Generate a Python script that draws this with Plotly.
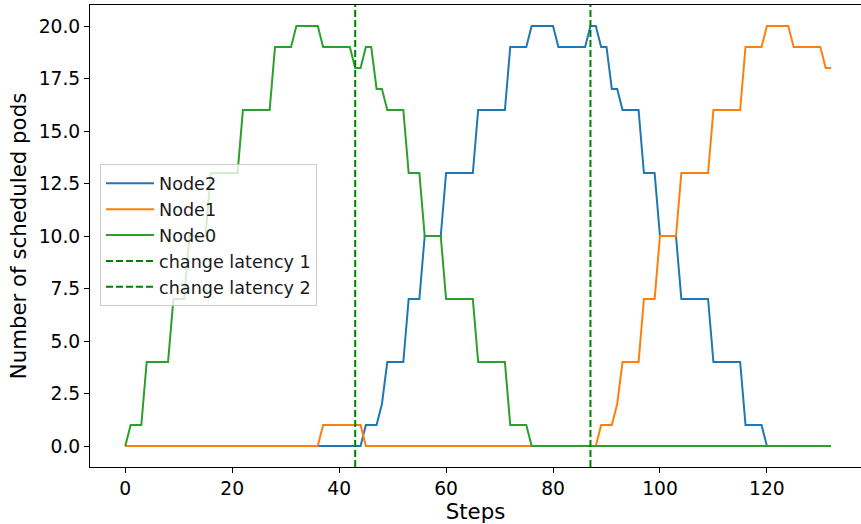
import plotly.graph_objects as go

steps = list(range(133))

node2 = [
    0, 0, 0, 0, 0, 0, 0, 0, 0, 0,
    0, 0, 0, 0, 0, 0, 0, 0, 0, 0,
    0, 0, 0, 0, 0, 0, 0, 0, 0, 0,
    0, 0, 0, 0, 0, 0, 0, 0, 0, 0,
    0, 0, 0, 0, 0, 1, 1, 1, 2, 4,
    4, 4, 4, 7, 7, 7, 10, 10, 10, 10,
    13, 13, 13, 13, 13, 13, 16, 16, 16, 16,
    16, 16, 19, 19, 19, 19, 20, 20, 20, 20,
    20, 19, 19, 19, 19, 19, 19, 20, 20, 19,
    19, 17, 17, 16, 16, 16, 16, 13, 13, 13,
    10, 10, 10, 10, 7, 7, 7, 7, 7, 7,
    4, 4, 4, 4, 4, 4, 1, 1, 1, 1,
    0, 0, 0, 0, 0, 0, 0, 0, 0, 0,
    0, 0, 0,
]

node1 = [
    0, 0, 0, 0, 0, 0, 0, 0, 0, 0,
    0, 0, 0, 0, 0, 0, 0, 0, 0, 0,
    0, 0, 0, 0, 0, 0, 0, 0, 0, 0,
    0, 0, 0, 0, 0, 0, 0, 1, 1, 1,
    1, 1, 1, 1, 1, 0, 0, 0, 0, 0,
    0, 0, 0, 0, 0, 0, 0, 0, 0, 0,
    0, 0, 0, 0, 0, 0, 0, 0, 0, 0,
    0, 0, 0, 0, 0, 0, 0, 0, 0, 0,
    0, 0, 0, 0, 0, 0, 0, 0, 0, 1,
    1, 1, 2, 4, 4, 4, 4, 7, 7, 7,
    10, 10, 10, 10, 13, 13, 13, 13, 13, 13,
    16, 16, 16, 16, 16, 16, 19, 19, 19, 19,
    20, 20, 20, 20, 20, 19, 19, 19, 19, 19,
    19, 18, 18,
]

node0 = [
    0, 1, 1, 1, 4, 4, 4, 4, 4, 7,
    7, 7, 10, 10, 10, 10, 13, 13, 13, 13,
    13, 13, 16, 16, 16, 16, 16, 16, 19, 19,
    19, 19, 20, 20, 20, 20, 20, 19, 19, 19,
    19, 19, 19, 18, 18, 19, 19, 17, 17, 16,
    16, 16, 16, 13, 13, 13, 10, 10, 10, 10,
    7, 7, 7, 7, 7, 7, 4, 4, 4, 4,
    4, 4, 1, 1, 1, 1, 0, 0, 0, 0,
    0, 0, 0, 0, 0, 0, 0, 0, 0, 0,
    0, 0, 0, 0, 0, 0, 0, 0, 0, 0,
    0, 0, 0, 0, 0, 0, 0, 0, 0, 0,
    0, 0, 0, 0, 0, 0, 0, 0, 0, 0,
    0, 0, 0, 0, 0, 0, 0, 0, 0, 0,
    0, 0, 0,
]

series_names = ["Node2", "Node1", "Node0"]
series_colors = ["#1f77b4", "#ff7f0e", "#2ca02c"]

change_steps = [43, 87]
change_names = ["change latency 1", "change latency 2"]

x_ticks = [0, 20, 40, 60, 80, 100, 120]
y_ticks = [0, 2.5, 5, 7.5, 10, 12.5, 15, 17.5, 20]
x_range = [-6.6, 137.6]
y_range = [-1, 21]

FONT = "DejaVu Sans"

fig = go.Figure()
for name, color, vals in zip(series_names, series_colors, [node2, node1, node0]):
    fig.add_trace(go.Scatter(
        x=steps, y=vals, mode="lines", name=name,
        line=dict(color=color, width=2),
    ))

for name, s in zip(change_names, change_steps):
    fig.add_trace(go.Scatter(
        x=[s, s], y=y_range, mode="lines", name=name,
        line=dict(color="#008000", width=2, dash="7px,3px"),
    ))

fig.update_layout(
    width=861, height=524,
    margin=dict(l=90, r=0, t=5, b=57),
    paper_bgcolor="white", plot_bgcolor="white",
    font=dict(family=FONT, color="black"),
    showlegend=True,
    legend=dict(
        x=0.013, y=0.655, xanchor="left", yanchor="top",
        bgcolor="rgba(255,255,255,0.8)",
        bordercolor="#cccccc", borderwidth=1,
        font=dict(family=FONT, size=17.6, color="#1a1a1a"),
        itemwidth=48,
        tracegroupgap=0,
    ),
    xaxis=dict(
        range=x_range, tickvals=x_ticks,
        showgrid=False, zeroline=False,
        showline=True, linecolor="black", linewidth=1, mirror=True,
        ticks="outside", ticklen=5, tickcolor="black", tickwidth=1,
        tickfont=dict(family=FONT, size=18.7, color="black"),
        title=dict(text="Steps", font=dict(family=FONT, size=21.3, color="black"), standoff=6),
    ),
    yaxis=dict(
        range=y_range, tickvals=y_ticks, tickformat=".1f",
        showgrid=False, zeroline=False,
        showline=True, linecolor="black", linewidth=1,
        ticks="outside", ticklen=5, tickcolor="black", tickwidth=1,
        tickfont=dict(family=FONT, size=18.7, color="black"),
        title=dict(text="Number of scheduled pods", font=dict(family=FONT, size=21.3, color="black"), standoff=6),
    ),
)

fig.write_html("out.html")
